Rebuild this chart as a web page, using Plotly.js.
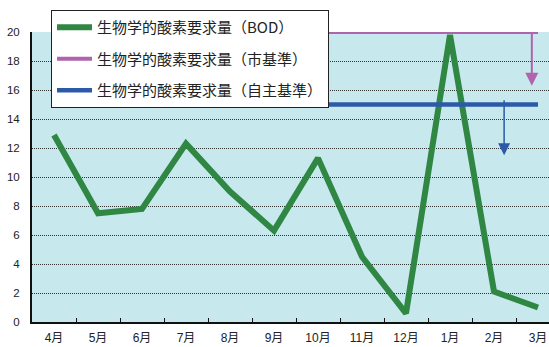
<!DOCTYPE html>
<html>
<head>
<meta charset="utf-8">
<script src="https://cdn.plot.ly/plotly-3.0.1.min.js"></script>
<style>
html,body{margin:0;padding:0;overflow:hidden;background:#fff;}
#chart{width:570px;height:347px;}
</style>
</head>
<body>
<div id="chart"></div>
<script>
const months = ["4月","5月","6月","7月","8月","9月","10月","11月","12月","1月","2月","3月"];
const bod = [12.9, 7.5, 7.8, 12.3, 9.0, 6.3, 11.3, 4.5, 0.6, 19.8, 2.1, 1.0];
const cityStd = 20;
const selfStd = 15;
const seriesNames = ["生物学的酸素要求量（BOD）","生物学的酸素要求量（市基準）","生物学的酸素要求量（自主基準）"];
// arrow annotations: [x index, from value, to value]
const cityArrow = [10.86, 20, 16.3];
const selfArrow = [10.23, 15.4, 11.5];

const cjk = "Liberation Sans, Arial, 'Noto Sans CJK JP', sans-serif";
const traces = [
  {x: months, y: bod, type: "scatter", mode: "lines", name: seriesNames[0], legendgroup: "a",
   line: {color: "#2f8743", width: 6}},
  {x: months, y: months.map(() => cityStd), type: "scatter", mode: "lines", name: seriesNames[1], legendgroup: "b",
   line: {color: "#b064ae", width: 4}},
  {x: months, y: months.map(() => selfStd), type: "scatter", mode: "lines", name: seriesNames[2], legendgroup: "c",
   line: {color: "#2c5aa8", width: 4.5}}
];

const layout = {
  width: 570, height: 347,
  margin: {l: 32, r: 10, t: 32, b: 25},
  paper_bgcolor: "#ffffff",
  plot_bgcolor: "#c7e8ec",
  showlegend: true,
  legend: {
    x: 0.036, xanchor: "left", y: 1.076, yanchor: "top",
    bgcolor: "#ffffff", bordercolor: "#222", borderwidth: 1,
    font: {family: "'Noto Sans CJK JP', sans-serif", size: 15, color: "#222"},
    tracegroupgap: 9, traceorder: "grouped", itemwidth: 35
  },
  xaxis: {
    type: "category", range: [-0.5, 11.5],
    showline: true, linecolor: "#111", linewidth: 2,
    ticks: "inside", tickson: "boundaries", ticklen: 4, tickcolor: "#111", tickwidth: 1,
    showgrid: false, zeroline: false,
    tickfont: {family: cjk, size: 12, color: "#222"},
    ticklabelstandoff: 4
  },
  yaxis: {
    range: [0, 20], dtick: 2, tick0: 0,
    showline: true, linecolor: "#111", linewidth: 2,
    ticks: "", showgrid: true, gridcolor: "#333", gridwidth: 1, griddash: "1px,1px",
    zeroline: false,
    tickfont: {family: cjk, size: 11.5, color: "#222"},
    ticklabelstandoff: 8
  },
  annotations: [
    {x: cityArrow[0], y: cityArrow[2], ax: cityArrow[0], ay: cityArrow[1], xref: "x", yref: "y", axref: "x", ayref: "y",
     text: "", showarrow: true, arrowhead: 2, arrowsize: 1.3, arrowwidth: 2, arrowcolor: "#b064ae", standoff: 0},
    {x: selfArrow[0], y: selfArrow[2], ax: selfArrow[0], ay: selfArrow[1], xref: "x", yref: "y", axref: "x", ayref: "y",
     text: "", showarrow: true, arrowhead: 2, arrowsize: 1.6, arrowwidth: 1.5, arrowcolor: "#2c5aa8", standoff: 0}
  ]
};

Plotly.newPlot("chart", traces, layout, {staticPlot: true, displayModeBar: false});
</script>
</body>
</html>
